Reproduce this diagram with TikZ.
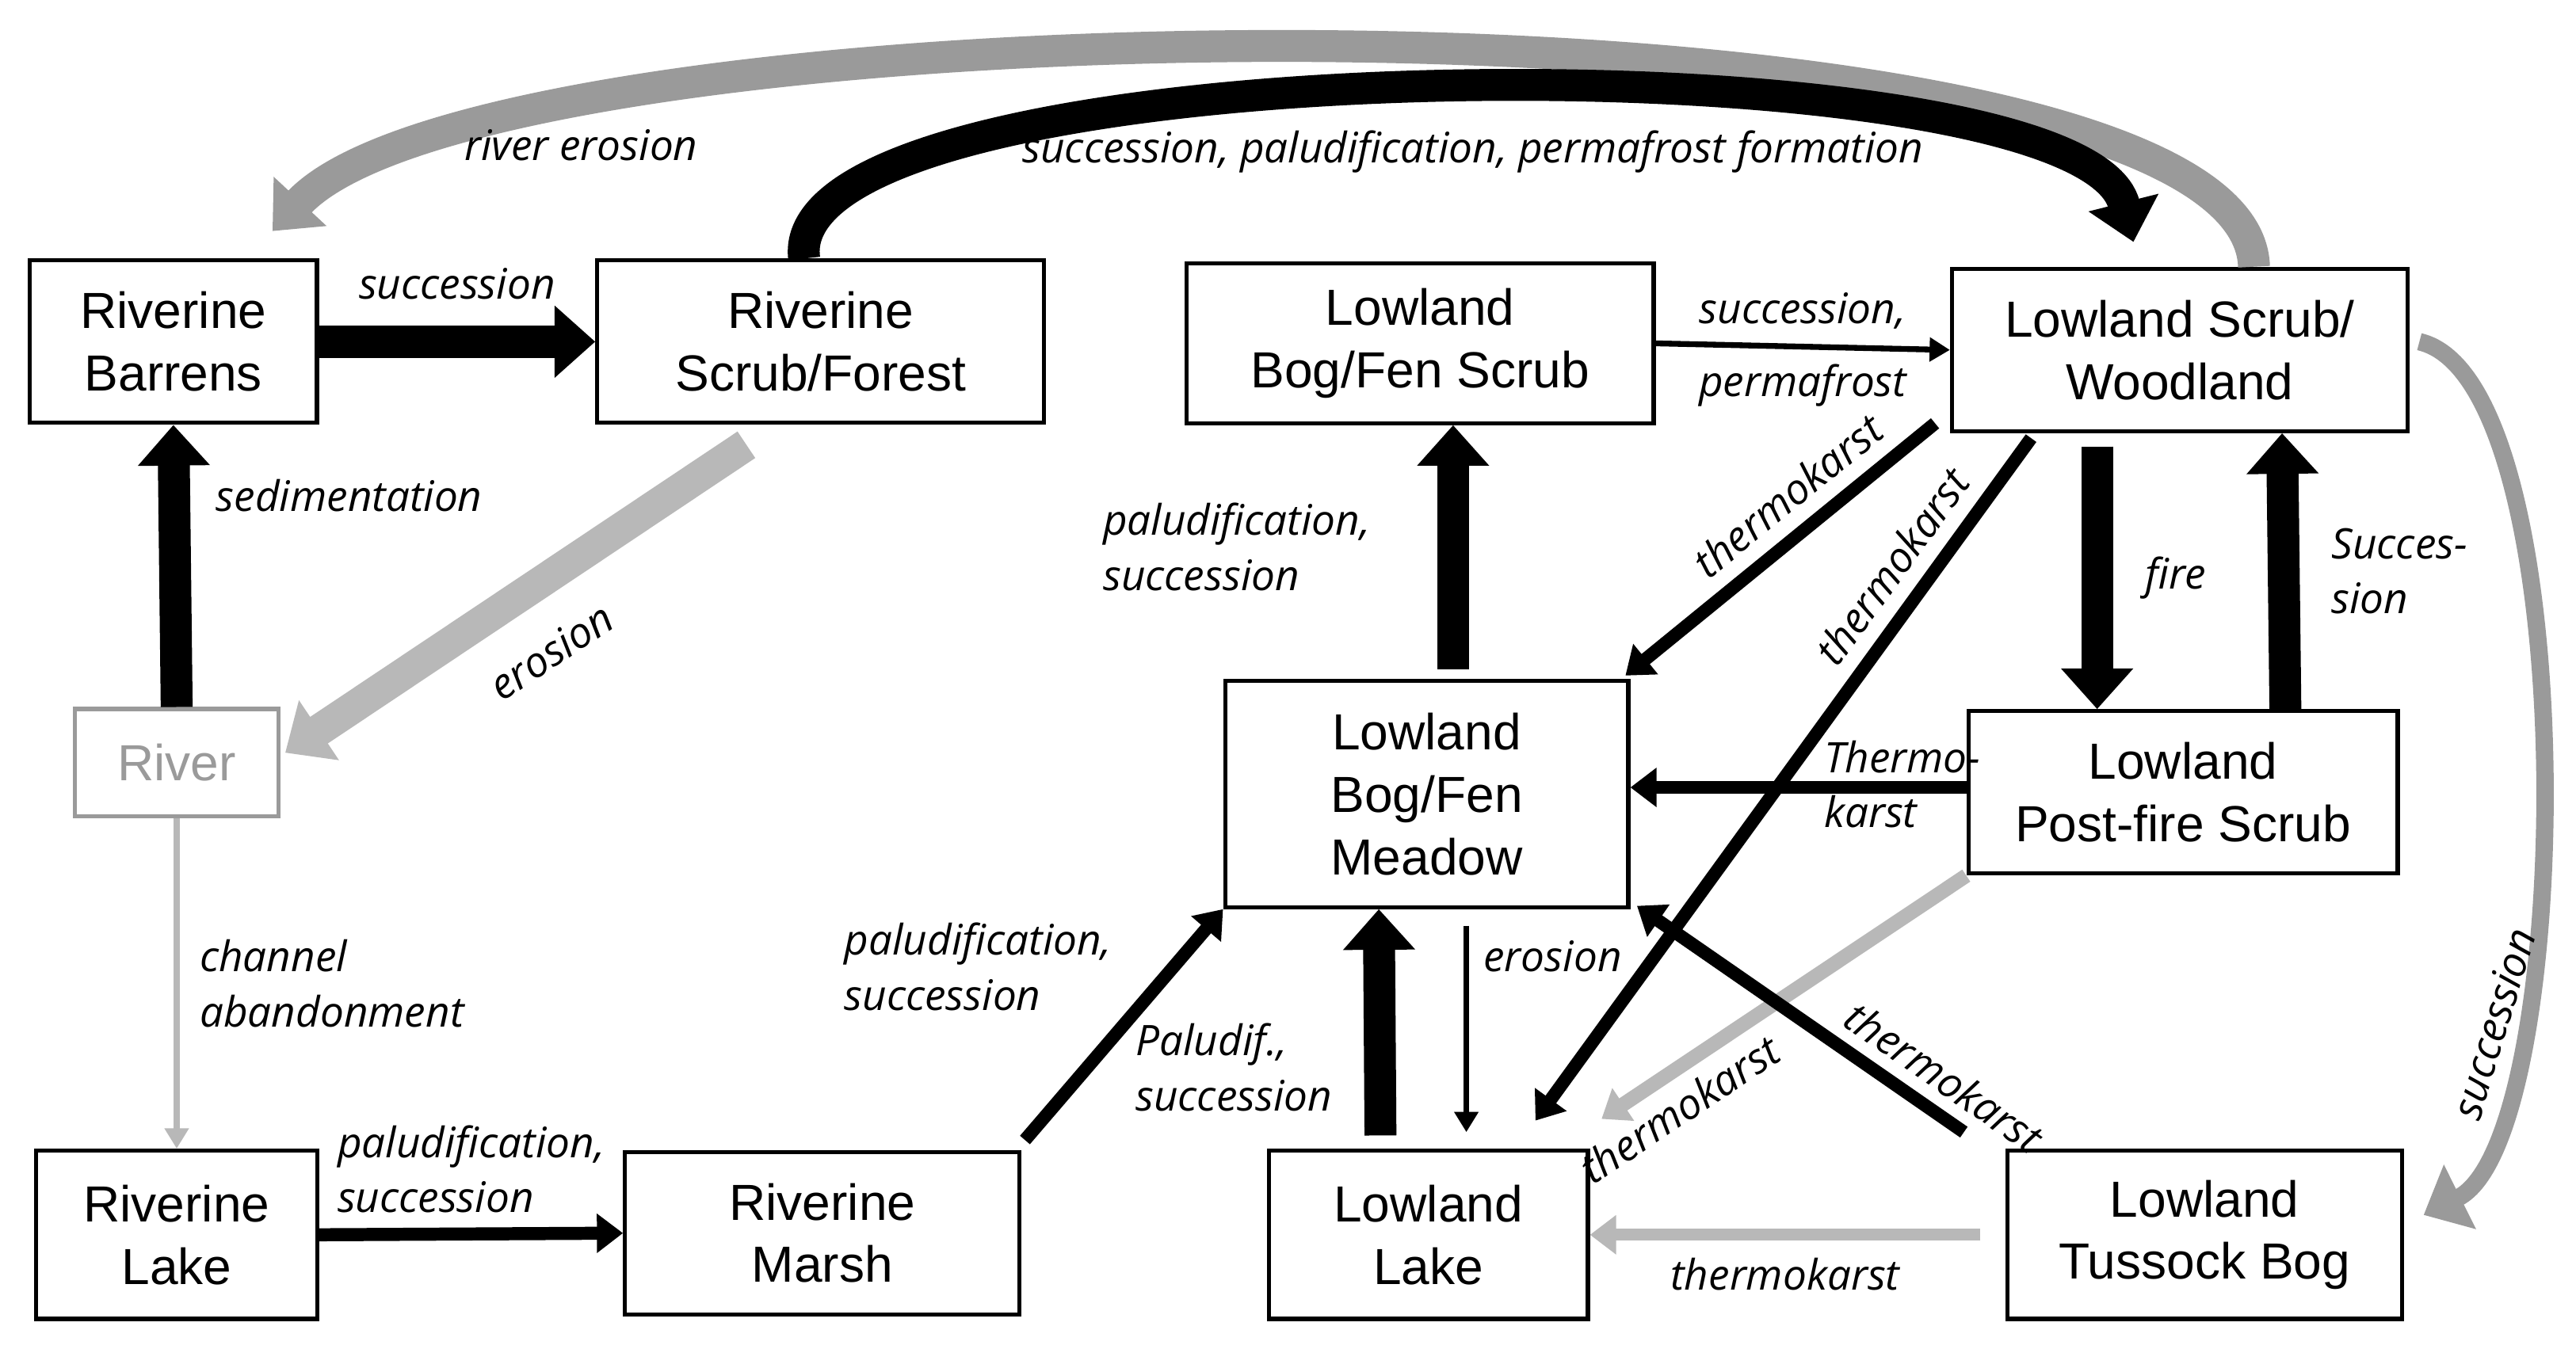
\documentclass[tikz,border=0pt]{standalone}
\usepackage{fontspec}
\setmainfont{Liberation Sans}
\newfontfamily\labfont{Open Sans}
\usetikzlibrary{calc,arrows.meta}
\definecolor{lgray}{HTML}{B8B8B8}
\definecolor{mgray}{HTML}{9A9A9A}
\tikzset{
  box/.style={draw, line width=1.4pt, align=center, font=\fontsize{17.5}{21.5}\selectfont, minimum height=#1, inner sep=2pt},
  box/.default=56pt,
  lab/.style={font=\labfont\itshape\fontsize{14.5}{19}\selectfont, align=left, inner sep=1pt},
  thickarr/.style={line width=11pt, -{Triangle[length=14pt,width=24pt]}},
  medarr/.style={line width=4.5pt, -{Triangle[length=9pt,width=13pt]}},
  thinarr/.style={line width=2pt, -{Triangle[length=7pt,width=8pt]}}
}
\begin{document}
\begin{tikzpicture}[x=0.02cm,y=-0.02cm]
\useasboundingbox (0,0) rectangle (1560,817);
% boxes
\node[box, minimum width=99pt] (bb) at (105,207) {Riverine\\Barrens};
\node[box, minimum width=154pt] (sf) at (497,207) {Riverine\\Scrub/Forest};
\node[box=55pt, minimum width=161pt] (bs) at (860,208) {Lowland\\Bog/Fen Scrub};
\node[box, minimum width=157pt] (sw) at (1320,212) {Lowland Scrub/\\Woodland};
\node[box=37pt, minimum width=70pt, draw=mgray, text=mgray] (rv) at (107,462) {River};
\node[box=78pt, minimum width=139pt] (mw) at (864,481) {Lowland\\Bog/Fen\\Meadow};
\node[box, minimum width=148pt] (pf) at (1322,480) {Lowland\\Post-fire Scrub};
\node[box=58pt, minimum width=97pt] (rl) at (107,748) {Riverine\\Lake};
\node[box, minimum width=136pt] (rm) at (498,747) {Riverine\\Marsh};
\node[box=58pt, minimum width=110pt] (ll) at (865,748) {Lowland\\Lake};
\node[box=58pt, minimum width=136pt] (tb) at (1335,748) {Lowland\\Tussock Bog};
% riverine side
\draw[thickarr] (bb.east) -- node[lab, above=8pt] {succession} (sf.west);
\draw[thickarr] (rv.north) -- node[lab, right=8pt, pos=0.75] {sedimentation} (bb.south);
\draw[thickarr, lgray] ($(sf.south)+(-45,12)$) -- node[lab, text=black, sloped, below=10pt] {erosion} ($(rv.east)+(3,-6)$);
\draw[thinarr, lgray] (rv.south) -- node[lab, text=black, right=6pt] {channel\\abandonment} (rl.north);
\draw[medarr] (rl.east) -- node[lab, above=4pt] {paludification,\\succession} (rm.west);
\draw[medarr] ($(rm.north east)+(2,-6)$) -- node[lab, left=18pt, pos=0.75] {paludification,\\succession} (mw.south west);
% long arcs
\draw[thickarr, mgray] ($(sw.north)+(45,0)$) .. controls (1360,-15) and (300,-5) .. (165,140);
\node[lab] (re) at (352,88) {river erosion};
\draw[thickarr] ($(sf.north)+(-10,0)$) .. controls (470,25) and (1260,20) .. ($(sw.north)+(-28,-15)$);
\node[lab] (sp) at (892,92) {succession, paludification, permafrost formation};
\draw[thickarr, mgray, line width=6pt] ($(sw.east)+(6,-5)$) .. controls (1565,230) and (1560,690) .. ($(tb.east)+(12,-12)$);
\node[lab, rotate=73] (su) at (1510,620) {succession};
% lowland side
\draw[thinarr] (bs.east) -- node[lab, above=4pt] {succession,} node[lab, below=4pt] {permafrost} (sw.west);
\draw[thickarr] ($(mw.north)+(16,-6)$) -- node[lab, left=22pt] {paludification,\\succession} ($(bs.south)+(20,0)$);
\draw[medarr] ($(sw.south west)+(-9,-6)$) -- node[lab, sloped, above=4pt, pos=0.4] {thermokarst} ($(mw.north east)+(-3,-2)$);
\draw[medarr] ($(sw.south)+(-90,3)$) -- node[lab, sloped, above=4pt, pos=0.22] {thermokarst} ($(ll.north east)+(-33,-17)$);
\draw[thickarr] ($(sw.south)+(-50,8)$) -- node[lab, right=10pt] {fire} ($(pf.north)+(-52,0)$);
\draw[thickarr] ($(pf.north)+(62,0)$) -- node[lab, right=10pt] {Succes-\\sion} ($(sw.south)+(62,0)$);
\draw[medarr] ($(pf.west)+(0,-3)$) -- ($(mw.east)+(0,-4)$);
\node[lab] (tk) at (1152,475) {Thermo-\\karst};
\draw[medarr, lgray, line width=5pt] (pf.south west) -- node[lab, text=black, sloped, below=3pt, pos=0.84] {thermokarst} ($(ll.north east)+(7,-18)$);
\draw[medarr] ($(tb.north west)+(-25,-10)$) -- node[lab, sloped, above=3pt, pos=0.12] {thermokarst} ($(mw.south east)+(4,-2)$);
\draw[medarr, lgray, line width=4pt] ($(tb.west)+(-15,0)$) -- node[lab, text=black, below=5pt] {thermokarst} (ll.east);
\draw[thickarr] ($(ll.north)+(-29,-8)$) -- node[lab, left=10pt, pos=0.3] {Paludif.,\\succession} ($(mw.south)+(-29,0)$);
\draw[thinarr] ($(mw.south)+(24,10)$) -- node[lab, right=4pt, pos=0.15] {erosion} ($(ll.north)+(23,-10)$);
\end{tikzpicture}
\end{document}
